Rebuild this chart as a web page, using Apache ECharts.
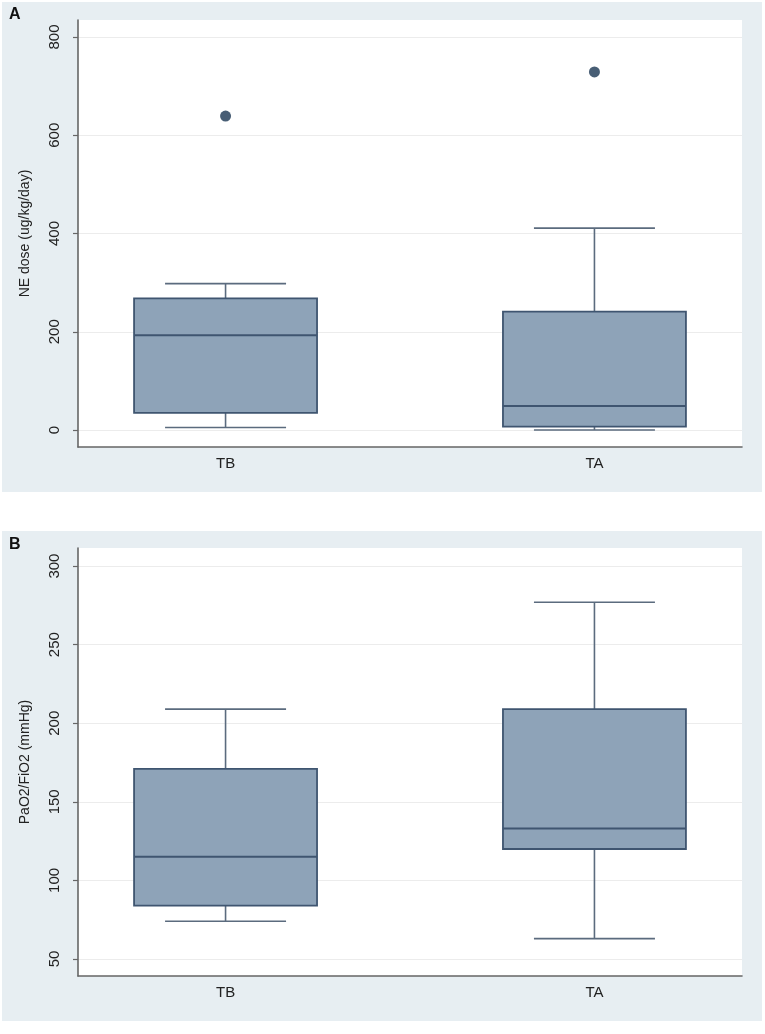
<!DOCTYPE html>
<html>
<head>
<meta charset="utf-8">
<script src="https://cdn.jsdelivr.net/npm/echarts@6/dist/echarts.min.js"></script>
<style>
  html, body { margin: 0; padding: 0; background: #fff; }
  #main { width: 765px; height: 1034px; }
</style>
</head>
<body>
<div id="main"></div>
<script>
// groups on the x axis (placed at 0 and 1 of a value axis)
var groups = ['TB', 'TA'];

// panel A: NE dose, [low whisker, Q1, median, Q3, high whisker]
var neBox = [
    [5, 35, 193, 268, 298],
    [0, 7, 49, 241, 411]
];
var neOutliers = [[0, 639], [1, 729]];
var neTicks = [0, 200, 400, 600, 800];

// panel B: PaO2/FiO2
var pfBox = [
    [74, 84, 115, 171, 209],
    [63, 120, 133, 209, 277]
];
var pfTicks = [50, 100, 150, 200, 250, 300];

var boxColor = '#8ea3b8';
var lineColor = '#3f5570';
var panelColor = '#e7eef2';

function toRows(box) {
    return box.map(function (b, i) {
        return [i].concat(b);
    });
}

function renderBox(params, api) {
    var x = api.value(0);
    var lo = api.coord([x, api.value(1)]);
    var q1 = api.coord([x, api.value(2)]);
    var md = api.coord([x, api.value(3)]);
    var q3 = api.coord([x, api.value(4)]);
    var hi = api.coord([x, api.value(5)]);
    var bw = api.size([0.496, 0])[0];
    var cw = api.size([0.328, 0])[0];
    var cx = md[0];
    var wStyle = { stroke: '#5b6b7e', lineWidth: 1.6 };
    return {
        type: 'group',
        children: [
            { type: 'line', shape: { x1: cx, y1: q3[1], x2: cx, y2: hi[1] }, style: wStyle },
            { type: 'line', shape: { x1: cx, y1: q1[1], x2: cx, y2: lo[1] }, style: wStyle },
            { type: 'line', shape: { x1: cx - cw / 2, y1: hi[1], x2: cx + cw / 2, y2: hi[1] }, style: wStyle },
            { type: 'line', shape: { x1: cx - cw / 2, y1: lo[1], x2: cx + cw / 2, y2: lo[1] }, style: wStyle },
            {
                type: 'rect',
                shape: { x: cx - bw / 2, y: q3[1], width: bw, height: q1[1] - q3[1] },
                style: { fill: boxColor, stroke: lineColor, lineWidth: 1.8 }
            },
            {
                type: 'line',
                shape: { x1: cx - bw / 2, y1: md[1], x2: cx + bw / 2, y2: md[1] },
                style: { stroke: lineColor, lineWidth: 2 }
            }
        ]
    };
}

function yAxisFor(idx, name, min, max, ticks) {
    return {
        gridIndex: idx,
        type: 'value',
        min: min,
        max: max,
        name: name,
        nameLocation: 'middle',
        nameRotate: 90,
        nameGap: 46,
        nameTextStyle: { fontFamily: 'Liberation Sans', fontSize: 14, color: '#222' },
        axisLine: { show: true, onZero: false, lineStyle: { color: '#666', width: 1.6 } },
        axisTick: { show: true, length: 5, customValues: ticks, lineStyle: { color: '#666', width: 1.2 } },
        axisLabel: {
            customValues: ticks,
            rotate: 90,
            margin: 16,
            fontFamily: 'Liberation Sans',
            fontSize: 15,
            color: '#222'
        },
        splitLine: { show: true, lineStyle: { color: '#ececec', width: 1 } }
    };
}

function xAxisFor(idx) {
    return {
        gridIndex: idx,
        type: 'value',
        min: -0.4,
        max: 1.4,
        axisLine: { show: true, onZero: false, lineStyle: { color: '#666', width: 1.6 } },
        axisTick: { show: false },
        splitLine: { show: false },
        axisLabel: {
            customValues: [0, 1],
            margin: 9,
            fontFamily: 'Liberation Sans',
            fontSize: 15,
            color: '#222',
            formatter: function (v) { return groups[Math.round(v)]; }
        }
    };
}

var myChart = echarts.init(document.getElementById('main'));

var option = {
    backgroundColor: '#fff',
    animation: false,
    graphic: [
        { type: 'rect', z: -10, shape: { x: 2, y: 2, width: 760, height: 490 }, style: { fill: panelColor } },
        { type: 'rect', z: -10, shape: { x: 2, y: 531, width: 760, height: 490 }, style: { fill: panelColor } },
        { type: 'text', left: 9, top: 7, style: { text: 'A', font: 'bold 16px Liberation Sans', fill: '#111' } },
        { type: 'text', left: 9, top: 537, style: { text: 'B', font: 'bold 16px Liberation Sans', fill: '#111' } }
    ],
    grid: [
        { left: 78, right: 23, top: 20, height: 427, show: true, backgroundColor: '#fff', borderWidth: 0 },
        { left: 78, right: 23, top: 548, height: 428, show: true, backgroundColor: '#fff', borderWidth: 0 }
    ],
    xAxis: [xAxisFor(0), xAxisFor(1)],
    yAxis: [
        yAxisFor(0, 'NE dose (ug/kg/day)', -34.6, 834.6, neTicks),
        yAxisFor(1, 'PaO2/FiO2 (mmHg)', 39.2, 311.5, pfTicks)
    ],
    series: [
        {
            type: 'custom',
            xAxisIndex: 0,
            yAxisIndex: 0,
            renderItem: renderBox,
            encode: { x: 0, y: [1, 2, 3, 4, 5] },
            data: toRows(neBox)
        },
        {
            type: 'scatter',
            xAxisIndex: 0,
            yAxisIndex: 0,
            symbolSize: 11,
            itemStyle: { color: '#1a3653' },
            data: neOutliers
        },
        {
            type: 'custom',
            xAxisIndex: 1,
            yAxisIndex: 1,
            renderItem: renderBox,
            encode: { x: 0, y: [1, 2, 3, 4, 5] },
            data: toRows(pfBox)
        }
    ]
};
myChart.setOption(option);
window.addEventListener("resize", function () {
    myChart.resize();
});
</script>
</body>
</html>
